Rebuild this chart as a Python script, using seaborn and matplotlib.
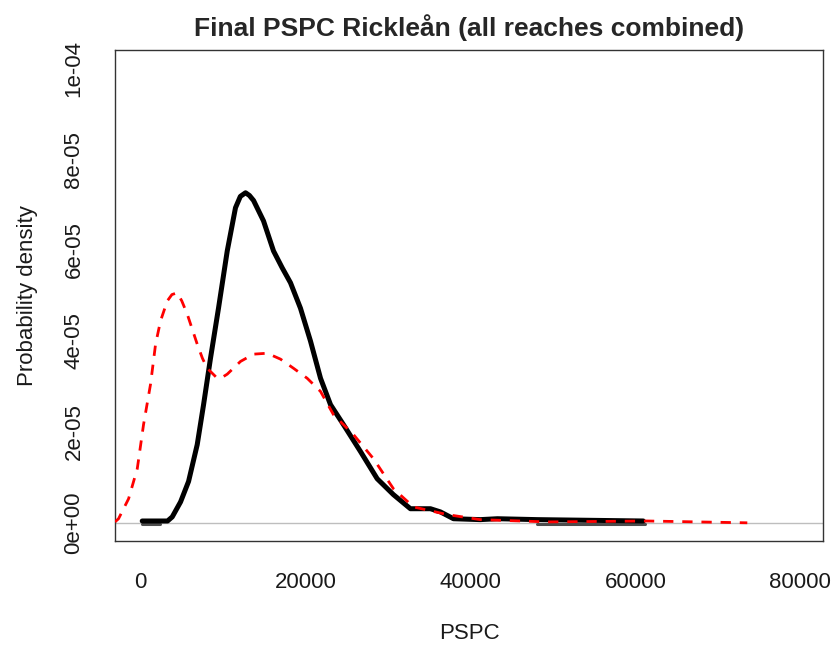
import matplotlib
matplotlib.use("Agg")
import matplotlib.pyplot as plt
import numpy as np
import pandas as pd
import seaborn as sns

# Density curves (PSPC vs probability density)
final_x = [200, 3270, 3840, 4850, 5820, 6870, 7640, 8480, 9450, 10510, 11510,
           12100, 12730, 13200, 13700, 14910, 16120, 17170, 18180, 19390, 20600,
           21820, 23030, 24600, 26660, 28690, 30660, 32720, 35150, 36360, 37940,
           41200, 43270, 48120, 60960]
final_y = [0.4e-6, 0.4e-6, 1.3e-6, 4.6e-6, 9.1e-6, 17.2e-6, 26.0e-6, 36.2e-6,
           47.2e-6, 59.8e-6, 69.3e-6, 71.8e-6, 72.6e-6, 72.0e-6, 70.9e-6, 66.4e-6,
           59.8e-6, 56.1e-6, 52.8e-6, 47.2e-6, 40.0e-6, 31.8e-6, 26.0e-6, 21.6e-6,
           15.7e-6, 9.7e-6, 6.2e-6, 3.1e-6, 3.1e-6, 2.4e-6, 0.9e-6, 0.7e-6, 0.9e-6,
           0.7e-6, 0.4e-6]

prior_x = [-3100, -2670, -1450, -400, 360, 1210, 1820, 2420, 3240, 3800, 4450,
           5000, 5660, 6870, 7500, 8080, 9300, 9900, 10510, 12120, 13700, 15360,
           16970, 18540, 20200, 21820, 23390, 25820, 28240, 30660, 33090, 37210,
           41210, 49330, 61450, 73570]
prior_y = [0.2e-6, 0.9e-6, 5.3e-6, 11.9e-6, 21.6e-6, 30.5e-6, 39.3e-6, 44.4e-6,
           48.8e-6, 50.2e-6, 50.6e-6, 48.8e-6, 45.9e-6, 39.3e-6, 36.2e-6, 34.0e-6,
           31.8e-6, 32.0e-6, 32.7e-6, 35.5e-6, 37.1e-6, 37.3e-6, 36.0e-6, 34.0e-6,
           31.8e-6, 28.9e-6, 23.8e-6, 19.4e-6, 14.1e-6, 7.5e-6, 3.5e-6, 1.8e-6,
           0.7e-6, 0.2e-6, 0.4e-6, 0.0]

# short dark segments lying on the zero line
flat_a_x = [200, 2300]
flat_b_x = [48100, 61200]
flat_y = [-0.3e-6, -0.3e-6]

x_ticks = [0, 20000, 40000, 60000, 80000]
y_ticks = [0, 2e-5, 4e-5, 6e-5, 8e-5, 1e-4]
y_tick_labels = ["0e+00", "2e-05", "4e-05", "6e-05", "8e-05", "1e-04"]

sns.set_style("white")
plt.rcParams["font.family"] = ["Liberation Sans", "DejaVu Sans"]

fig = plt.figure(figsize=(8.31, 6.51), dpi=100)
ax = fig.add_axes([115 / 831, 1 - 541 / 651, 708 / 831, 491 / 651])

ax.axhline(0, color="#bebebe", lw=1.0, zorder=1)

for fx in (flat_a_x, flat_b_x):
    sns.lineplot(x=fx, y=flat_y, ax=ax, color="#4d4d4d", lw=2.2,
                 estimator=None, zorder=1.5)

final_df = pd.DataFrame({"x": final_x, "y": final_y})
prior_df = pd.DataFrame({"x": prior_x, "y": prior_y})
sns.lineplot(data=final_df, x="x", y="y", ax=ax, color="black", lw=3.6,
             sort=False, estimator=None, zorder=2)
sns.lineplot(data=prior_df, x="x", y="y", ax=ax, color="red", lw=2.0,
             sort=False, estimator=None, zorder=3)
ax.lines[-1].set_dashes((3.7, 3.2))

ax.set_xlim(-3100, 82750)
ax.set_ylim(-4e-6, 1.04e-4)
ax.set_xticks(x_ticks)
ax.set_xticklabels([str(t) for t in x_ticks])
ax.set_yticks(y_ticks)
ax.set_yticklabels(y_tick_labels, rotation=90, va="center")

for s in ax.spines.values():
    s.set_color("#333333")
    s.set_linewidth(1.0)

ax.tick_params(axis="both", direction="out", length=10, width=1.0,
               color="#333333", labelsize=16, labelcolor="#1a1a1a")
ax.tick_params(axis="x", pad=12)
ax.tick_params(axis="y", pad=12)

ax.set_xlabel("PSPC", fontsize=16, color="#1a1a1a", labelpad=22)
ax.set_ylabel("Probability density", fontsize=16, color="#1a1a1a", labelpad=18)
ax.set_title("Final PSPC Rickleån (all reaches combined)", fontsize=19,
             fontweight="bold", pad=10)

fig.savefig("out.png", dpi=100)
